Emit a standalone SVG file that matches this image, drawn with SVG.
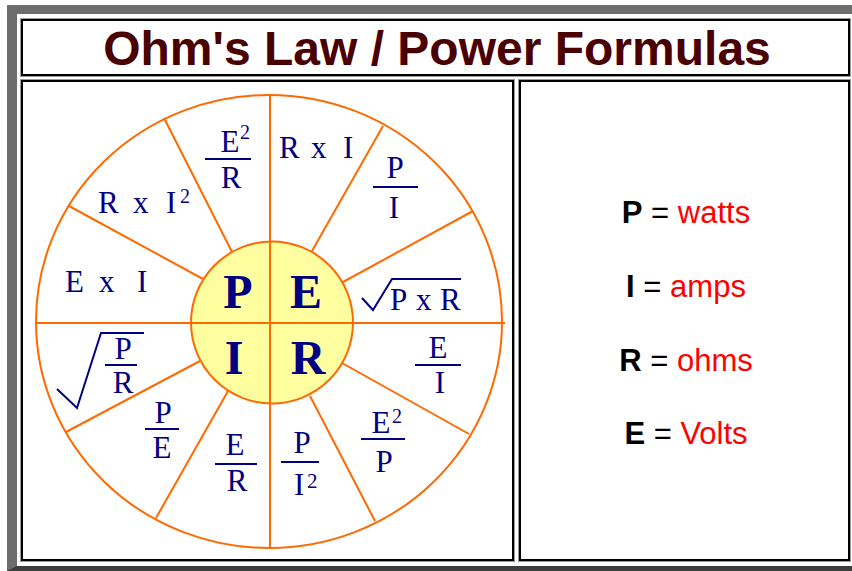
<svg xmlns="http://www.w3.org/2000/svg" width="852" height="571" viewBox="0 0 852 571">
<style>
.cell{fill:#fff;stroke:#000;stroke-width:2}
.cellg{fill:none;stroke:#9a9a9a;stroke-width:1}
.or{stroke:#ff6a00;stroke-width:2;fill:none}
.f{font-family:"Liberation Serif","Times New Roman",serif;font-size:31px;fill:#000080}
.s{font-size:20px}
.b{font-family:"Liberation Serif","Times New Roman",serif;font-size:48px;font-weight:bold;fill:#000080;text-anchor:middle}
.m{text-anchor:middle}
.bar{stroke:#000080;stroke-width:2;fill:none}
.leg{font-family:"Liberation Sans",Arial,sans-serif;font-size:31px;text-anchor:middle}
.k{font-weight:bold;fill:#000}
.u{fill:#ff0000}
</style>
<rect x="0" y="0" width="852" height="571" fill="#fff"/>
<rect x="7" y="5" width="845" height="566" fill="#6d6d6d"/>
<polygon points="7,571 17,566 852,566 852,571" fill="#3c3c3c"/>
<rect x="17" y="14" width="835" height="552" fill="#fff"/>
<g id="title">
<rect class="cell" x="22" y="20" width="827" height="55"/>
<rect class="cellg" x="20.5" y="18.5" width="830" height="58"/>
<text x="437" y="65" font-family="'Liberation Sans',Arial,sans-serif" font-size="48" font-weight="bold" fill="#4a0000" text-anchor="middle">Ohm's Law / Power Formulas</text>
</g>
<g id="wheel-panel">
<rect class="cell" x="22" y="81" width="491" height="479"/>
<rect class="cellg" x="20.5" y="79.5" width="494" height="482"/>
</g>
<g id="legend-panel">
<rect class="cell" x="520" y="81" width="329" height="479"/>
<rect class="cellg" x="518.5" y="79.5" width="332" height="482"/>
</g>
<g id="connectors">
<ellipse class="or" cx="269" cy="321.5" rx="233" ry="226.5"/>
<line class="or" x1="270" y1="95" x2="270" y2="548"/>
<line class="or" x1="36" y1="323" x2="505" y2="323"/>
<line class="or" x1="164" y1="118" x2="232" y2="252"/>
<line class="or" x1="69" y1="206" x2="203" y2="279"/>
<line class="or" x1="383" y1="126" x2="312" y2="251"/>
<line class="or" x1="473" y1="211" x2="343" y2="282"/>
<line class="or" x1="200" y1="361" x2="66" y2="432"/>
<line class="or" x1="228" y1="391" x2="156" y2="518"/>
<line class="or" x1="342" y1="363" x2="469" y2="434"/>
<line class="or" x1="310" y1="396" x2="375" y2="521"/>
</g>
<g id="center">
<circle cx="272" cy="322.5" r="81" fill="#ffffa0" stroke="#ff6a00" stroke-width="2"/>
<line class="or" x1="270" y1="241" x2="270" y2="404"/>
<line class="or" x1="191" y1="323" x2="353" y2="323"/>
<text class="b" x="238" y="308">P</text>
<text class="b" x="306" y="308">E</text>
<text class="b" x="234" y="374">I</text>
<text class="b" x="308" y="374">R</text>
</g>
<g id="e2-over-r">
<text class="f m" x="230" y="152" font-size="33">E</text>
<text class="f s" x="240" y="139">2</text>
<line class="bar" x1="205" y1="159" x2="251" y2="159"/>
<text class="f m" x="231" y="188" font-size="28">R</text>
</g>
<g id="r-x-i2">
<text class="f"><tspan x="98" y="213">R</tspan><tspan x="133" y="213">x</tspan><tspan x="166" y="213">I</tspan><tspan class="s" x="180" y="203">2</tspan></text>
</g>
<g id="e-x-i">
<text class="f"><tspan x="65" y="292">E</tspan><tspan x="99" y="292">x</tspan><tspan x="137" y="292">I</tspan></text>
</g>
<g id="r-x-i">
<text class="f"><tspan x="279" y="158">R</tspan><tspan x="311" y="158">x</tspan><tspan x="343" y="158">I</tspan></text>
</g>
<g id="p-over-i">
<text class="f m" x="395" y="178">P</text>
<line class="bar" x1="373" y1="187" x2="418" y2="187"/>
<text class="f m" x="394" y="218">I</text>
</g>
<g id="sqrt-p-x-r">
<polyline class="bar" points="362,298 373,310 392,279 461,279"/>
<text class="f"><tspan x="390" y="310">P</tspan><tspan x="416" y="310">x</tspan><tspan x="440" y="310">R</tspan></text>
</g>
<g id="sqrt-p-over-r">
<polyline class="bar" points="57,389 77,408 101,333 144,333"/>
<text class="f m" x="123" y="359">P</text>
<line class="bar" x1="105" y1="365" x2="137" y2="365"/>
<text class="f m" x="123" y="393">R</text>
</g>
<g id="p-over-e">
<text class="f m" x="163" y="423">P</text>
<line class="bar" x1="145" y1="429" x2="179" y2="429"/>
<text class="f m" x="162" y="458">E</text>
</g>
<g id="e-over-r">
<text class="f m" x="235" y="455">E</text>
<line class="bar" x1="215" y1="464" x2="257" y2="464"/>
<text class="f m" x="237" y="491">R</text>
</g>
<g id="e-over-i">
<text class="f m" x="438" y="358">E</text>
<line class="bar" x1="415" y1="365" x2="461" y2="365"/>
<text class="f m" x="440" y="393">I</text>
</g>
<g id="e2-over-p">
<text class="f m" x="381" y="433" font-size="29">E</text>
<text class="f s" x="392" y="423">2</text>
<line class="bar" x1="361" y1="439" x2="405" y2="439"/>
<text class="f m" x="384" y="472">P</text>
</g>
<g id="p-over-i2">
<text class="f m" x="302" y="453">P</text>
<line class="bar" x1="281" y1="462" x2="319" y2="462"/>
<text class="f"><tspan x="294" y="495">I</tspan><tspan x="307" y="488" font-size="21">2</tspan></text>
</g>
<g id="legend">
<text class="leg" x="686" y="223"><tspan class="k">P</tspan> = <tspan class="u">watts</tspan></text>
<text class="leg" x="686" y="297"><tspan class="k">I</tspan> = <tspan class="u">amps</tspan></text>
<text class="leg" x="686" y="371"><tspan class="k">R</tspan> = <tspan class="u">ohms</tspan></text>
<text class="leg" x="686" y="444"><tspan class="k">E</tspan> = <tspan class="u">Volts</tspan></text>
</g>
</svg>
